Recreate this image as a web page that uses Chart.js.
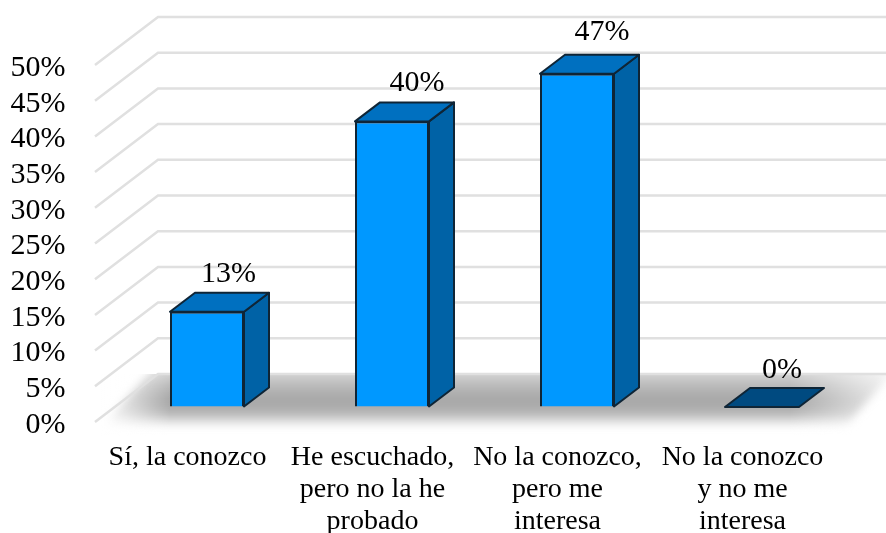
<!DOCTYPE html>
<html>
<head>
<meta charset="utf-8">
<script src="https://cdn.jsdelivr.net/npm/chart.js@4"></script>
<style>
  html, body { margin: 0; padding: 0; background: #fff; }
  canvas { display: block; }
</style>
</head>
<body>
<canvas id="myCanvas" width="886" height="533"></canvas>
<script>
const categories = [
  "Sí, la conozco",
  ["He escuchado,", "pero no la he", "probado"],
  ["No la conozco,", "pero me", "interesa"],
  ["No la conozco", "y no me", "interesa"],
];
// bar heights, labels show them rounded
const values = [13.33, 40, 46.67, 0];

const fontFamily = "'Liberation Serif', 'Times New Roman', serif";

// the fake 3D: wall sits 63px right / 48px up of the axis plane, bars 25/19 deep
const wallDx = 63;
const wallDy = 48;
const planeDrop = 15;
const barDx = 25;
const barDy = 19;
// where each value label sits relative to its bar
const labelLift = [38, 38, 42, 37];
const labelShift = [21.5, 25, 25, 20];

const backdrop = {
  id: "backdrop",
  beforeDatasetsDraw(chart) {
    const { ctx, scales } = chart;
    const y = scales.y;
    const axisX = 95;
    const wallX = axisX + wallDx;

    // floor
    const y0 = y.getPixelForValue(0);
    const backY = y0 + planeDrop - wallDy;
    ctx.save();
    ctx.beginPath();
    ctx.rect(90, backY, 796, 62);
    ctx.clip();
    ctx.filter = "blur(4px)";
    const grad = ctx.createLinearGradient(0, backY, 0, backY + 52);
    grad.addColorStop(0, "#d4d4d4");
    grad.addColorStop(0.2, "#bcbcbc");
    grad.addColorStop(0.5, "#a6a6a6");
    grad.addColorStop(0.75, "#b4b4b4");
    grad.addColorStop(0.9, "#dedede");
    grad.addColorStop(1, "#f8f8f8");
    ctx.fillStyle = grad;
    ctx.beginPath();
    ctx.moveTo(wallX, backY - 10);
    ctx.lineTo(900, backY - 10);
    ctx.lineTo(892, backY);
    ctx.lineTo(846, backY + 52);
    ctx.lineTo(100, backY + 52);
    ctx.closePath();
    ctx.fill();
    ctx.filter = "none";
    const fadeLeft = ctx.createLinearGradient(100, 0, 170, 0);
    fadeLeft.addColorStop(0, "rgba(255,255,255,1)");
    fadeLeft.addColorStop(1, "rgba(255,255,255,0)");
    ctx.fillStyle = fadeLeft;
    ctx.fillRect(90, backY, 80, 62);
    const fadeRight = ctx.createLinearGradient(790, 0, 886, 0);
    fadeRight.addColorStop(0, "rgba(255,255,255,0)");
    fadeRight.addColorStop(1, "rgba(255,255,255,0.75)");
    ctx.fillStyle = fadeRight;
    ctx.fillRect(790, backY, 96, 62);
    ctx.restore();

    // wall and side lines
    ctx.save();
    ctx.strokeStyle = "#e0e0e0";
    ctx.lineWidth = 2.5;
    y.ticks.forEach((t) => {
      const py = y.getPixelForValue(t.value) + planeDrop;
      ctx.beginPath();
      ctx.moveTo(axisX, py);
      ctx.lineTo(wallX, py - wallDy);
      ctx.lineTo(886, py - wallDy);
      ctx.stroke();
    });
    ctx.restore();
  },
};

const bar3d = {
  id: "bar3d",
  afterDatasetsDraw(chart) {
    const { ctx } = chart;
    const bars = chart.getDatasetMeta(0).data;
    ctx.save();
    ctx.strokeStyle = "#0f2536";
    ctx.lineWidth = 2;
    ctx.lineJoin = "round";
    bars.forEach((bar, i) => {
      const left = bar.x - bar.width / 2;
      const right = bar.x + bar.width / 2;
      const top = bar.y;
      const base = bar.base;

      if (base - top > 0) {
        ctx.fillStyle = "#0062a6";
        ctx.beginPath();
        ctx.moveTo(right, top);
        ctx.lineTo(right + barDx, top - barDy);
        ctx.lineTo(right + barDx, base - barDy);
        ctx.lineTo(right, base);
        ctx.closePath();
        ctx.fill();
        ctx.stroke();
      }

      ctx.fillStyle = values[i] === 0 ? "#004a80" : "#0070c0";
      ctx.beginPath();
      ctx.moveTo(left, top);
      ctx.lineTo(left + barDx, top - barDy);
      ctx.lineTo(right + barDx, top - barDy);
      ctx.lineTo(right, top);
      ctx.closePath();
      ctx.fill();
      ctx.stroke();

      // value label
      ctx.fillStyle = "#000";
      ctx.font = "30px " + fontFamily;
      ctx.textAlign = "center";
      ctx.textBaseline = "middle";
      ctx.fillText(Math.round(values[i]) + "%", bar.x + labelShift[i], top - labelLift[i]);
    });
    ctx.restore();
  },
};

new Chart(document.getElementById("myCanvas"), {
  type: "bar",
  data: {
    labels: categories,
    datasets: [
      {
        data: values,
        backgroundColor: "#0098ff",
        borderColor: "#0f2536",
        borderWidth: 2,
        barPercentage: 0.4,
        categoryPercentage: 1,
      },
    ],
  },
  plugins: [backdrop, bar3d],
  options: {
    responsive: false,
    animation: false,
    layout: { autoPadding: false, padding: { top: 50, right: 31.5, left: 0, bottom: 0 } },
    plugins: { legend: false, tooltip: { enabled: false } },
    scales: {
      y: {
        min: 0,
        max: 50,
        afterFit: (s) => { s.width = 114.5; },
        // tick length instead of ticks.padding, the padding also eats into the top of the area
        grid: { drawOnChartArea: false, color: "transparent", tickLength: 49 },
        border: { display: false },
        ticks: {
          stepSize: 5,
          autoSkip: false,
          labelOffset: planeDrop + 3,
          padding: 0,
          color: "#000",
          font: { family: fontFamily, size: 30 },
          callback: (v) => v + "%",
        },
      },
      x: {
        afterFit: (s) => { s.height = 126; },
        grid: { display: false },
        border: { display: false },
        ticks: {
          maxRotation: 0,
          autoSkip: false,
          labelOffset: -19.5,
          padding: 27,
          color: "#000",
          font: { family: fontFamily, size: 28, lineHeight: 1.14 },
        },
      },
    },
  },
});
</script>
</body>
</html>
